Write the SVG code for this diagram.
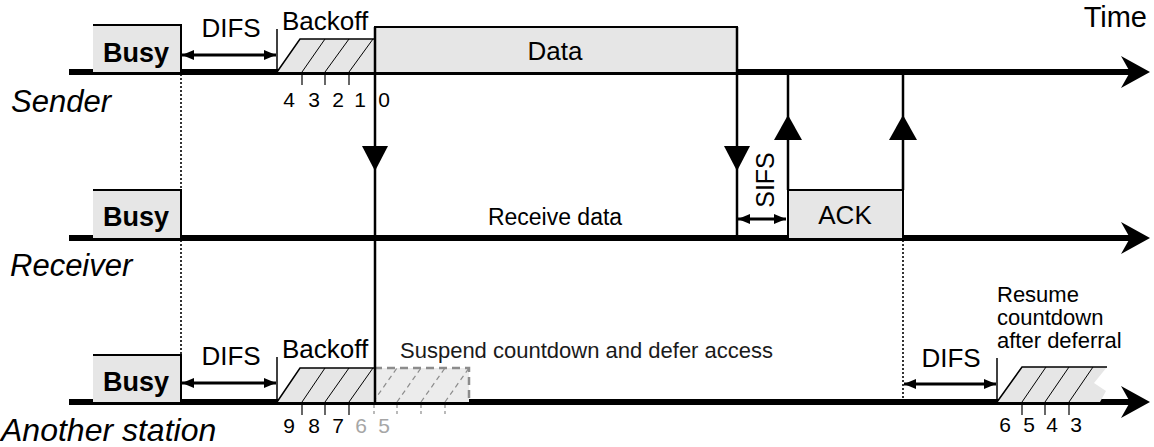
<svg xmlns="http://www.w3.org/2000/svg" width="1154" height="447" viewBox="0 0 1154 447">
<style>
text{font-family:"Liberation Sans",Arial,sans-serif;fill:#000}
.lbl{font-size:26px}
.busy{font-size:27px;font-weight:bold}
.role{font-size:31px;font-style:italic}
.num{font-size:21px}
.gnum{font-size:21px;fill:#a6a6a6}
.note{font-size:22px}
.tl{stroke:#000;stroke-width:6}
.box{fill:#e6e6e6;stroke:none}
.edge{fill:none;stroke:#000;stroke-width:2}
.vl{stroke:#000;stroke-width:2.5}
.dot{stroke:#000;stroke-width:1.6;stroke-dasharray:2,2}
.hatch{stroke:#000;stroke-width:1}
.ghatch{stroke:#8c8c8c;stroke-width:1.2;stroke-dasharray:5,4}
.gedge{fill:none;stroke:#8c8c8c;stroke-width:2.5;stroke-dasharray:8,5}
.dbl{stroke:#000;stroke-width:3;marker-start:url(#ah);marker-end:url(#ah)}
.tick{stroke:#000;stroke-width:1.2}
.gtick{stroke:#8c8c8c;stroke-width:1.2;stroke-dasharray:3,3}
</style>
<defs>
<marker id="ah" viewBox="0 0 12 10" refX="12" refY="5" markerWidth="12" markerHeight="10" markerUnits="userSpaceOnUse" orient="auto-start-reverse"><path d="M0,0 L12,5 L0,10 Z" fill="#000"/></marker>
<path id="thead" d="M0,0 L-29,-16 L-20,0 L-29,16 Z" fill="#000"/>
<path id="tdown" d="M-13,0 L13,0 L0,25 Z" fill="#000"/>
<path id="tup" d="M0,0 L14,25 L-14,25 Z" fill="#000"/>
</defs>

<g id="timelines">
<line class="tl" x1="69" y1="72" x2="1130" y2="72"/>
<use href="#thead" x="1150" y="72"/>
<line class="tl" x1="69" y1="238" x2="1130" y2="238"/>
<use href="#thead" x="1150" y="238"/>
<line class="tl" x1="69" y1="402" x2="1130" y2="402"/>
<use href="#thead" x="1150" y="402"/>
<text class="lbl" x="1147" y="27" text-anchor="end" style="font-size:29px">Time</text>
<text class="role" x="11" y="112">Sender</text>
<text class="role" x="10" y="276">Receiver</text>
<text class="role" x="1" y="441" style="font-size:32px">Another station</text>
</g>

<g id="sender-busy">
<rect class="box" x="93" y="25" width="88" height="47"/>
<polyline class="edge" points="93,25 181,25 181,72"/>
<text class="busy" x="136" y="62" text-anchor="middle">Busy</text>
</g>
<g id="receiver-busy">
<rect class="box" x="93" y="190" width="88" height="48"/>
<polyline class="edge" points="93,190 181,190 181,238"/>
<text class="busy" x="136" y="226" text-anchor="middle">Busy</text>
</g>
<g id="another-busy">
<rect class="box" x="93" y="355" width="88" height="47"/>
<polyline class="edge" points="93,355 181,355 181,402"/>
<text class="busy" x="136" y="391" text-anchor="middle">Busy</text>
</g>

<g id="sender-difs">
<line class="vl" x1="277" y1="29" x2="277" y2="72" style="stroke-width:1.5"/>
<line class="dbl" x1="182" y1="55" x2="276" y2="55"/>
<text class="lbl" x="231" y="37" text-anchor="middle">DIFS</text>
</g>
<g id="sender-backoff">
<polygon class="box" points="277,72 300,39 374,39 374,72"/>
<polyline class="edge" points="277,72 300,39 374,39" style="stroke-width:1.5"/>
<line class="hatch" x1="302" y1="72" x2="325" y2="39"/>
<line class="hatch" x1="325" y1="72" x2="349" y2="39"/>
<line class="hatch" x1="349" y1="72" x2="373" y2="39"/>
<line class="tick" x1="302" y1="75" x2="302" y2="85"/>
<line class="tick" x1="325" y1="75" x2="325" y2="85"/>
<line class="tick" x1="349" y1="75" x2="349" y2="85"/>
<text class="lbl" x="325" y="30" text-anchor="middle">Backoff</text>
<text class="num" x="289" y="107" text-anchor="middle">4</text>
<text class="num" x="314" y="107" text-anchor="middle">3</text>
<text class="num" x="338" y="107" text-anchor="middle">2</text>
<text class="num" x="360" y="107" text-anchor="middle">1</text>
<text class="num" x="384" y="107" text-anchor="middle">0</text>
</g>
<g id="data">
<rect class="box" x="375" y="27" width="362" height="45"/>
<polyline class="edge" points="375,72 375,27 737,27 737,72"/>
<text class="lbl" x="555" y="60" text-anchor="middle">Data</text>
</g>

<g id="receive">
<text class="note" x="555" y="225" text-anchor="middle" style="font-size:23px">Receive data</text>
</g>
<g id="ack">
<rect class="box" x="788" y="190" width="115" height="48"/>
<polyline class="edge" points="788,238 788,190 903,190 903,238"/>
<text class="lbl" x="845" y="224" text-anchor="middle">ACK</text>
</g>
<g id="sifs">
<line class="dbl" x1="738" y1="219" x2="786" y2="219"/>
<text class="lbl" transform="translate(774,180) rotate(-90)" text-anchor="middle" style="font-size:25px">SIFS</text>
</g>

<g id="another-difs">
<line class="vl" x1="277" y1="357" x2="277" y2="402" style="stroke-width:1.5"/>
<line class="dbl" x1="182" y1="383" x2="276" y2="383"/>
<text class="lbl" x="231" y="365" text-anchor="middle">DIFS</text>
</g>
<g id="another-backoff">
<polygon class="box" points="373,368 469,368 469,402 373,402" style="fill:#ececec"/>
<polyline class="gedge" points="374,368 469,368 469,402"/>
<line class="ghatch" x1="373" y1="402" x2="397" y2="368"/>
<line class="ghatch" x1="397" y1="402" x2="421" y2="368"/>
<line class="ghatch" x1="421" y1="402" x2="445" y2="368"/>
<line class="ghatch" x1="445" y1="402" x2="469" y2="368"/>
<polygon class="box" points="277,402 300,368 374,368 374,402"/>
<polyline class="edge" points="277,402 300,368 374,368" style="stroke-width:1.5"/>
<line class="hatch" x1="302" y1="402" x2="325" y2="368"/>
<line class="hatch" x1="325" y1="402" x2="349" y2="368"/>
<line class="hatch" x1="349" y1="402" x2="373" y2="368"/>
<line class="tick" x1="302" y1="405" x2="302" y2="415"/>
<line class="tick" x1="325" y1="405" x2="325" y2="415"/>
<line class="tick" x1="349" y1="405" x2="349" y2="415"/>
<line class="gtick" x1="374" y1="405" x2="374" y2="415"/>
<line class="gtick" x1="397" y1="405" x2="397" y2="415"/>
<line class="gtick" x1="421" y1="405" x2="421" y2="415"/>
<line class="gtick" x1="445" y1="405" x2="445" y2="415"/>
<text class="lbl" x="325" y="358" text-anchor="middle">Backoff</text>
<text class="note" x="400" y="358" style="fill:#1a1a1a">Suspend countdown and defer access</text>
<text class="num" x="289" y="433" text-anchor="middle">9</text>
<text class="num" x="314" y="433" text-anchor="middle">8</text>
<text class="num" x="338" y="433" text-anchor="middle">7</text>
<text class="gnum" x="361" y="433" text-anchor="middle">6</text>
<text class="gnum" x="384" y="433" text-anchor="middle">5</text>
</g>
<g id="resume-difs">
<line class="vl" x1="997" y1="358" x2="997" y2="402" style="stroke-width:1.5"/>
<line class="dbl" x1="904" y1="384" x2="996" y2="384"/>
<text class="lbl" x="951" y="367" text-anchor="middle">DIFS</text>
</g>
<g id="resume-backoff">
<polygon class="box" points="997,402 1022,367 1107,367 1094,383 1106,391 1100,402"/>
<polyline class="edge" points="997,402 1022,367 1107,367" style="stroke-width:1.5"/>
<line class="hatch" x1="1022" y1="402" x2="1046" y2="367"/>
<line class="hatch" x1="1045" y1="402" x2="1069" y2="367"/>
<line class="hatch" x1="1069" y1="402" x2="1093" y2="367"/>
<line class="tick" x1="1022" y1="405" x2="1022" y2="415"/>
<line class="tick" x1="1045" y1="405" x2="1045" y2="415"/>
<line class="tick" x1="1069" y1="405" x2="1069" y2="415"/>
<text class="note" x="997" y="302">Resume</text>
<text class="note" x="997" y="325">countdown</text>
<text class="note" x="997" y="348">after deferral</text>
<text class="num" x="1005" y="432" text-anchor="middle">6</text>
<text class="num" x="1029" y="432" text-anchor="middle">5</text>
<text class="num" x="1052" y="432" text-anchor="middle">4</text>
<text class="num" x="1076" y="432" text-anchor="middle">3</text>
</g>

<g id="connectors">
<line class="dot" x1="181" y1="74" x2="181" y2="190"/>
<line class="dot" x1="181" y1="240" x2="181" y2="355"/>
<line class="dot" x1="903" y1="240" x2="903" y2="402"/>
<line class="vl" x1="375" y1="27" x2="375" y2="402"/>
<use href="#tdown" x="375" y="146"/>
<line class="vl" x1="737" y1="27" x2="737" y2="238"/>
<use href="#tdown" x="737" y="146"/>
<line class="vl" x1="788" y1="190" x2="788" y2="72"/>
<use href="#tup" x="788" y="115"/>
<line class="vl" x1="903" y1="190" x2="903" y2="72"/>
<use href="#tup" x="903" y="115"/>
</g>
</svg>
